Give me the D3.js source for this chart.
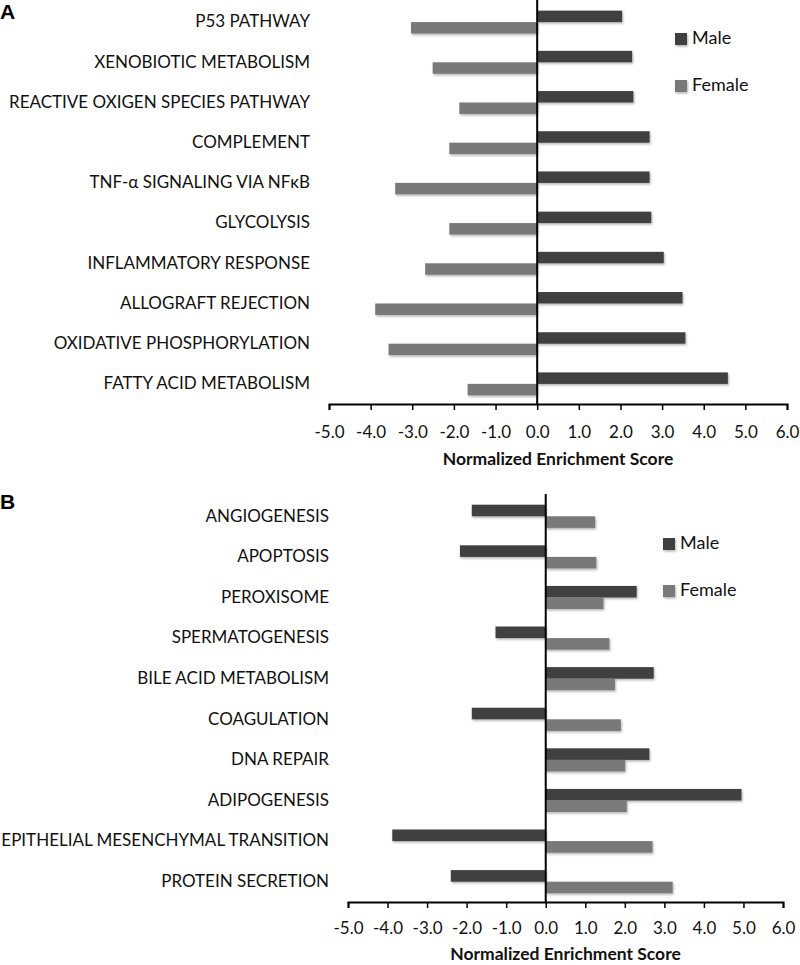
<!DOCTYPE html>
<html>
<head>
<meta charset="utf-8">
<script src="https://cdn.jsdelivr.net/npm/d3@7"></script>
<style>
  body { margin: 0; background: #fff; }
  svg { display: block; }
</style>
</head>
<body>
<svg id="chart" width="800" height="965"></svg>
<script>
// ---------- DATA ----------
const categoriesA = ["P53 PATHWAY", "XENOBIOTIC METABOLISM", "REACTIVE OXIGEN SPECIES PATHWAY", "COMPLEMENT",
  "TNF-\u03B1 SIGNALING VIA NF\u03BAB", "GLYCOLYSIS", "INFLAMMATORY RESPONSE", "ALLOGRAFT REJECTION",
  "OXIDATIVE PHOSPHORYLATION", "FATTY ACID METABOLISM"];
const maleA   = [2.04, 2.28, 2.31, 2.70, 2.70, 2.74, 3.04, 3.49, 3.56, 4.58];
const femaleA = [-3.03, -2.51, -1.87, -2.11, -3.41, -2.11, -2.69, -3.89, -3.57, -1.67];

const categoriesB = ["ANGIOGENESIS", "APOPTOSIS", "PEROXISOME", "SPERMATOGENESIS", "BILE ACID METABOLISM",
  "COAGULATION", "DNA REPAIR", "ADIPOGENESIS", "EPITHELIAL MESENCHYMAL TRANSITION", "PROTEIN SECRETION"];
const maleB   = [-1.87, -2.17, 2.30, -1.27, 2.73, -1.87, 2.62, 4.95, -3.88, -2.40];
const femaleB = [1.25, 1.28, 1.46, 1.61, 1.75, 1.90, 2.01, 2.05, 2.70, 3.21];

const seriesNames = ["Male", "Female"];
const tickValues = [-5, -4, -3, -2, -1, 0, 1, 2, 3, 4, 5, 6];
const tickLabels = ["-5.0", "-4.0", "-3.0", "-2.0", "-1.0", "0.0", "1.0", "2.0", "3.0", "4.0", "5.0", "6.0"];
const xDomain = [-5, 6];
const axisTitle = "Normalized Enrichment Score";

// ---------- STYLE ----------
const colors = { Male: "#404040", Female: "#797979" };
const labelFont = "Lato, 'Open Sans', sans-serif";

const svg = d3.select("#chart");
const defs = svg.append("defs");
const f = defs.append("filter").attr("id", "shadow").attr("x", "-10%").attr("y", "-50%").attr("width", "120%").attr("height", "200%");
f.append("feDropShadow").attr("dx", 1).attr("dy", 1.5).attr("stdDeviation", 1).attr("flood-color", "#000").attr("flood-opacity", 0.3);

function panel(opts) {
  const { letter, letterY, cats, male, female, x0, x1, yTop, yBottom, legendX, legendY, titleOffset, tickOffset } = opts;
  const g = svg.append("g");
  const x = d3.scaleLinear().domain(xDomain).range([x0, x1]);
  const y = d3.scaleBand().domain(cats).range([yTop, yBottom]).paddingInner(0.43).paddingOuter(0.215);
  const sub = d3.scaleBand().domain(seriesNames).range([0, y.bandwidth()]);

  const rows = cats.map((c, i) => ({ c, Male: male[i], Female: female[i] }));

  // bars
  seriesNames.forEach(s => {
    g.append("g").selectAll("rect").data(rows).join("rect")
      .attr("x", d => x(Math.min(0, d[s])))
      .attr("width", d => Math.abs(x(d[s]) - x(0)))
      .attr("y", d => y(d.c) + sub(s))
      .attr("height", sub.bandwidth())
      .attr("fill", colors[s])
      .attr("filter", "url(#shadow)");
  });

  // category labels
  g.append("g").selectAll("text").data(cats).join("text")
    .attr("x", x0 - 19)
    .attr("y", d => y(d) + y.bandwidth() / 2 + 1)
    .attr("text-anchor", "end")
    .attr("dominant-baseline", "middle")
    .attr("font-family", labelFont)
    .attr("font-size", 17)
    .attr("fill", "#111")
    .text(d => d);

  // zero line
  g.append("line")
    .attr("x1", x(0)).attr("x2", x(0))
    .attr("y1", yTop - 2).attr("y2", yBottom + 1)
    .attr("stroke", "#000").attr("stroke-width", 2);

  // x axis
  const axis = d3.axisBottom(x).tickValues(tickValues)
    .tickFormat((d, i) => tickLabels[i]).tickSizeOuter(6).tickSize(6);
  const ax = g.append("g").attr("transform", `translate(0,${yBottom})`).call(axis);
  ax.select(".domain").attr("stroke", "#000").attr("stroke-width", 2);
  ax.selectAll(".tick line").attr("stroke", "#000").attr("stroke-width", 1.5);
  ax.selectAll(".tick text")
    .attr("font-family", labelFont).attr("font-size", 17).attr("fill", "#111")
    .attr("dy", null).attr("y", tickOffset);

  // axis title
  g.append("text")
    .attr("x", (x0 + x1) / 2).attr("y", yBottom + titleOffset)
    .attr("text-anchor", "middle")
    .attr("font-family", labelFont).attr("font-weight", "bold").attr("font-size", 17.5)
    .attr("fill", "#111")
    .text(axisTitle);

  // legend
  const lg = g.append("g");
  seriesNames.forEach((s, i) => {
    const ly = legendY + i * 47;
    lg.append("rect").attr("x", legendX).attr("y", ly).attr("width", 12).attr("height", 12)
      .attr("fill", colors[s]).attr("filter", "url(#shadow)");
    lg.append("text").attr("x", legendX + 17).attr("y", ly + 6).attr("dominant-baseline", "middle")
      .attr("font-family", labelFont).attr("font-size", 18).attr("fill", "#111").text(s);
  });

  // panel letter
  g.append("text").attr("x", 0).attr("y", letterY)
    .attr("font-family", "Arial, 'Liberation Sans', sans-serif").attr("font-weight", "bold").attr("font-size", 21)
    .attr("fill", "#000").text(letter);
}

panel({ letter: "A", letterY: 19, cats: categoriesA, male: maleA, female: femaleA,
  x0: 329, x1: 787, yTop: 2, yBottom: 404, legendX: 675, legendY: 33, titleOffset: 61, tickOffset: 33.5 });

panel({ letter: "B", letterY: 509, cats: categoriesB, male: maleB, female: femaleB,
  x0: 348, x1: 783, yTop: 496, yBottom: 902, legendX: 663, legendY: 538, titleOffset: 58, tickOffset: 32 });
</script>
</body>
</html>
